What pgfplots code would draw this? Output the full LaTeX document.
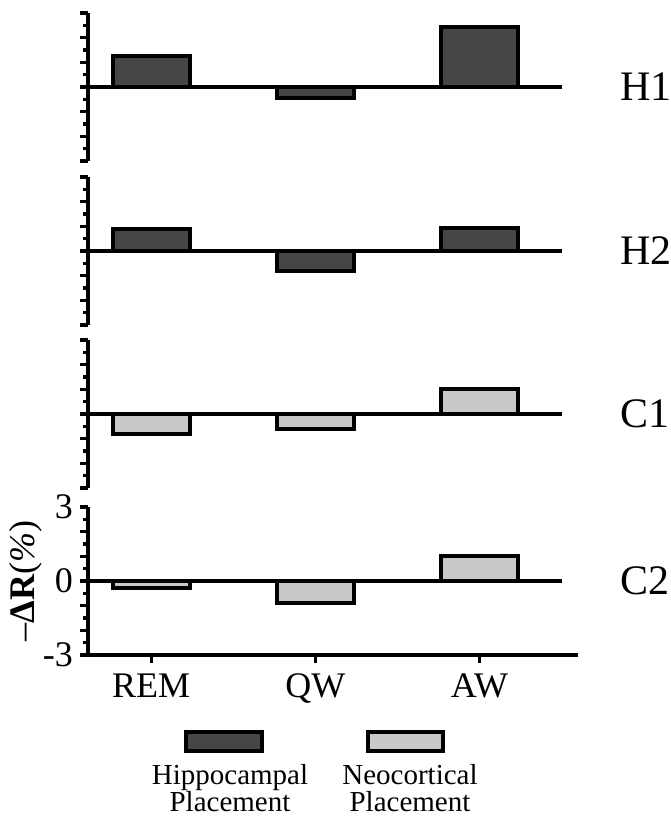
\documentclass[border=0pt]{standalone}
\usepackage{pgfplots}
\pgfplotsset{compat=1.18}
\usepackage{fontspec}
\setmainfont{Liberation Serif}
\definecolor{hippo}{HTML}{464646}
\definecolor{neo}{HTML}{C8C8C8}
\pgfplotsset{
  panel/.style={
    scale only axis, width=245pt, height=74pt,
    anchor=south west,
    xmin=-0.385, xmax=2.6, ymin=-3, ymax=3,
    axis y line*=left,
    ytick={-3,...,3}, minor y tick num=1,
    tick align=outside,
    major tick length=4pt, minor tick length=2.5pt,
    every tick/.style={black, line width=1.6pt},
    axis line style={line width=2.2pt},
    clip=false,
  },
  toppanel/.style={panel, axis x line=none, yticklabels={}},
  bars/.style={ybar, bar width=38.5pt, bar shift=0pt, draw=black, line width=2pt},
}
\newcommand{\zeroline}{\draw[line width=1.8pt] (axis cs:-0.385,0) -- (axis cs:2.5,0);}

\begin{document}
\begin{tikzpicture}
\path[use as bounding box] (0,0) rectangle (335pt,-411pt);

% H1
\begin{axis}[toppanel, at={(44pt,-80.5pt)}]
  \addplot[bars, fill=hippo] coordinates {(0,1.25) (1,-0.45) (2,2.45)};
  \zeroline
\end{axis}

% H2
\begin{axis}[toppanel, at={(44pt,-162.5pt)}]
  \addplot[bars, fill=hippo] coordinates {(0,0.9) (1,-0.8) (2,0.95)};
  \zeroline
\end{axis}

% C1
\begin{axis}[toppanel, at={(44pt,-244pt)}]
  \addplot[bars, fill=neo] coordinates {(0,-0.8) (1,-0.6) (2,1.0)};
  \zeroline
\end{axis}

% C2 (bottom, with labels)
\begin{axis}[panel, at={(44pt,-327.5pt)},
    axis x line*=bottom,
    xtick={0,1,2}, xticklabels={REM,QW,AW},
    yticklabels={-3,,,0,,,3},
    yticklabel style={font=\fontsize{18}{18}\selectfont},
    xticklabel style={font=\fontsize{18}{18}\selectfont, yshift=-2pt},
  ]
  \addplot[bars, fill=neo] coordinates {(0,-0.3) (1,-0.9) (2,1.0)};
  \zeroline
\end{axis}

% panel names
\foreach \lab/\yy in {H1/-43.5pt, H2/-125.5pt, C1/-207pt, C2/-290.5pt}
  \node[anchor=west, font=\fontsize{21}{21}\selectfont, inner sep=0pt] at (310pt,\yy) {\lab};

% y label
\node[rotate=90, font=\fontsize{18}{18}\selectfont] at (13pt,-290.5pt)
  {–\textbf{ΔR}(\textit{\%})};

% legend
\draw[line width=1.8pt, fill=hippo] (93pt,-366pt) rectangle (131pt,-375.5pt);
\draw[line width=1.8pt, fill=neo] (184pt,-366pt) rectangle (221.5pt,-375.5pt);
\node[align=center, font=\fontsize{14.5}{13.5}\selectfont, anchor=north, inner sep=0pt] at (115pt,-382pt)
  {Hippocampal\\Placement};
\node[align=center, font=\fontsize{14.5}{13.5}\selectfont, anchor=north, inner sep=0pt] at (205pt,-382pt)
  {Neocortical\\Placement};
\end{tikzpicture}
\end{document}
